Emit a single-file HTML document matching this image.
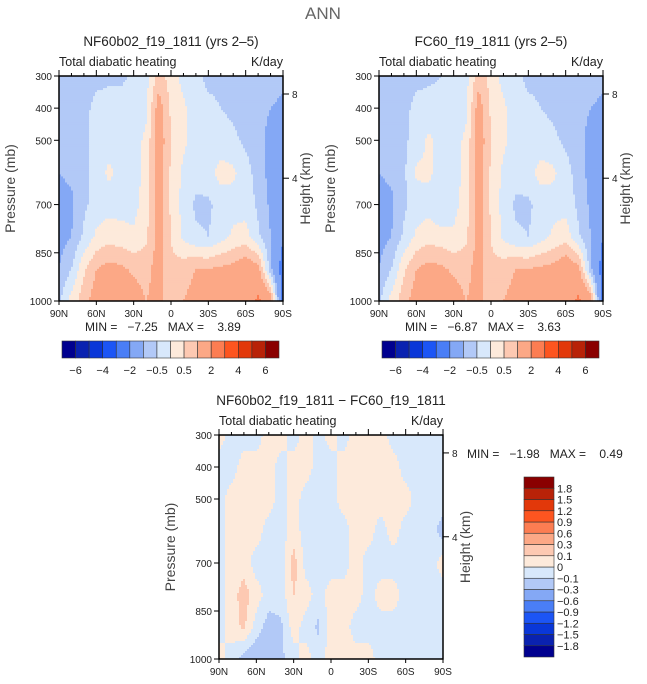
<!DOCTYPE html>
<html><head><meta charset="utf-8">
<style>
body{margin:0;background:#fff;}
svg{display:block;font-family:"Liberation Sans",sans-serif;}
text{fill:#222;}
</style></head>
<body>
<svg id="root" width="647" height="684" viewBox="0 0 647 684" xmlns="http://www.w3.org/2000/svg">
<text x="323" y="19" font-size="17" text-anchor="middle" fill="#666" style="fill:#666">ANN</text>
</svg>
<script>
const lats = ["90N","80N","70N","60N","50N","40N","30N","20N","10N","0","10S","20S","30S","40S","50S","60S","70S","80S","90S"];
const pLevels = [300,400,500,600,700,800,900,1000];
const xTickLabels = ["90N","60N","30N","0","30S","60S","90S"];
const yTickLabels = [300,400,500,700,850,1000];
const hTickLabels = [8,4];
const hTickPressures = [356,618];
const levelsA = [-6,-5,-4,-3,-2,-1,-0.5,0,0.5,1,2,3,4,5,6];
const levelsA_labels = [-6,-4,-2,-0.5,0.5,2,4,6];
const levelsD = [-1.8,-1.5,-1.2,-0.9,-0.6,-0.3,-0.1,0,0.1,0.3,0.6,0.9,1.2,1.5,1.8];
const colors = ["#00008f","#0a22b0","#0a37d8","#1c55f5","#4a7ef6","#84a8f5","#b2c9f7","#d8e8fb","#fdeadb","#fdc9b2","#fca886","#fc7d52","#fd5520","#e2380a","#b82208","#8a0000"];

const field1 = [
[-0.8,-0.8,-0.7,-0.6,-0.6,-0.6,-0.4,-0.2,0.7,0.3,-0.2,-0.4,-0.6,-0.6,-0.7,-0.7,-0.8,-0.8,-0.9],
[-0.9,-0.8,-0.6,-0.4,-0.3,-0.3,-0.3,-0.1,1.3,0.4,0.1,-0.3,-0.4,-0.5,-0.6,-0.7,-0.8,-1.0,-1.1],
[-1.0,-0.8,-0.6,-0.3,-0.2,-0.2,-0.2,0.1,1.4,0.5,0.1,-0.2,-0.3,-0.3,-0.4,-0.6,-0.8,-1.2,-1.4],
[-1.0,-0.9,-0.6,-0.3,0.1,-0.2,-0.3,0.2,1.4,0.4,-0.1,-0.3,-0.2,0.2,0.1,-0.3,-0.7,-1.2,-1.8],
[-1.2,-1.1,-0.6,-0.3,-0.2,-0.2,-0.2,0.3,1.3,0.4,-0.2,-0.6,-0.6,-0.3,-0.2,-0.2,-0.6,-1.1,-1.9],
[-1.2,-1.0,-0.4,0.1,0.3,0.2,0.1,0.4,1.2,0.5,-0.1,-0.4,-0.5,-0.2,0.1,0.2,-0.4,-1.0,-1.9],
[-1.0,-0.5,0.4,1.0,1.2,1.1,0.9,0.8,1.3,0.6,0.8,1.0,1.0,1.1,1.2,1.5,1.2,-0.8,-2.5],
[-0.6,0.2,0.8,1.3,1.5,1.5,1.3,1.0,1.2,0.6,1.0,1.2,1.2,1.3,1.2,1.2,2.2,1.5,-2.5]];
const field2 = [
[-0.8,-0.8,-0.7,-0.6,-0.6,-0.5,-0.4,-0.2,0.8,0.3,-0.2,-0.4,-0.6,-0.6,-0.7,-0.7,-0.8,-0.8,-0.9],
[-0.9,-0.8,-0.6,-0.4,-0.3,-0.3,-0.3,-0.1,1.3,0.4,0.1,-0.3,-0.4,-0.5,-0.6,-0.7,-0.8,-1.0,-1.1],
[-1.0,-0.8,-0.6,-0.3,0.1,-0.2,-0.2,0.1,1.4,0.5,0.1,-0.2,-0.3,-0.3,-0.4,-0.6,-0.8,-1.2,-1.5],
[-1.0,-0.9,-0.6,0.1,0.1,-0.2,-0.3,0.2,1.4,0.4,-0.1,-0.3,-0.2,0.2,0.1,-0.3,-0.7,-1.2,-1.9],
[-1.2,-1.1,-0.6,-0.3,-0.2,-0.5,-0.2,0.3,1.3,0.4,-0.2,-0.6,-0.6,-0.3,-0.2,-0.2,-0.6,-1.1,-2.0],
[-1.2,-1.0,-0.4,0.1,0.3,0.2,0.1,0.4,1.2,0.5,-0.1,-0.4,-0.5,-0.2,0.1,0.3,-0.4,-1.0,-2.0],
[-1.0,-0.5,0.4,1.0,1.2,1.1,0.9,0.8,1.3,0.6,0.8,1.0,1.0,1.1,1.2,1.5,1.2,-0.8,-2.5],
[-0.6,0.2,0.8,1.3,1.5,1.5,1.3,1.0,1.2,0.6,1.0,1.2,1.2,1.3,1.2,1.2,2.2,1.5,-2.5]];
const field3 = [
[0.05,-0.05,-0.05,-0.05,0.05,0.05,-0.05,0.05,-0.05,0.05,-0.05,0.05,0.05,0.05,-0.05,-0.05,-0.05,-0.05,-0.05],
[-0.05,-0.05,0.05,0.05,0.05,-0.05,0.05,0.05,-0.05,-0.05,0.05,0.05,0.05,0.05,0.05,-0.05,-0.05,-0.05,-0.05],
[-0.05,0.05,0.05,0.05,0.05,-0.05,0.05,-0.05,-0.05,-0.05,0.05,0.05,0.05,0.05,0.05,0.05,-0.05,-0.05,-0.05],
[-0.05,0.05,0.05,0.05,-0.05,-0.05,0.05,-0.05,-0.05,-0.05,-0.05,0.05,0.05,-0.05,0.05,-0.05,-0.05,-0.05,-0.15],
[-0.05,0.05,0.05,-0.05,-0.05,-0.05,0.15,-0.05,-0.05,-0.05,-0.05,0.05,-0.05,-0.05,-0.05,-0.05,-0.05,-0.05,0.05],
[-0.05,0.05,0.15,0.05,-0.05,-0.05,0.1,0.05,-0.05,0.05,0.05,0.05,-0.05,0.05,0.05,-0.05,-0.05,-0.05,-0.05],
[-0.05,0.05,0.12,-0.05,-0.15,-0.12,0.05,-0.05,-0.12,0.05,0.05,-0.05,-0.05,-0.05,-0.05,-0.05,-0.05,-0.05,-0.05],
[0.05,-0.05,-0.15,-0.2,-0.15,-0.12,-0.05,0.05,-0.05,0.05,0.05,0.05,0.05,-0.05,-0.05,-0.05,-0.05,-0.05,-0.05]];

const NS="http://www.w3.org/2000/svg";
const root=document.getElementById('root');
function el(tag,attrs,parent){const e=document.createElementNS(NS,tag);for(const k in attrs)e.setAttribute(k,attrs[k]);(parent||root).appendChild(e);return e;}
function txt(s,attrs,parent){const e=el('text',attrs,parent);e.textContent=s;return e;}
function colorIdx(v,lv){let i=0;while(i<lv.length&&v>=lv[i])i++;return i;}
function sample(f,fx,p){
  const cx=fx*(lats.length-1);let i=Math.min(Math.floor(cx),lats.length-2);const tx=cx-i;
  let j=0;while(j<pLevels.length-2&&p>pLevels[j+1])j++;
  const ty=(p-pLevels[j])/(pLevels[j+1]-pLevels[j]);
  const a=f[j][i]*(1-tx)+f[j][i+1]*tx, b=f[j+1][i]*(1-tx)+f[j+1][i+1]*tx;
  return a*(1-ty)+b*ty;
}
function panel(x0,y0,w,h,f,lv,title,mm,name,mmPos){
  const g=el('g',{},root);
  
  
  const yP=p=>y0+(p-300)/700*h;
  const N=112,M=112,cw=w/N,ch=h/M;
  for(let r=0;r<M;r++){
    const p=300+(r+0.5)/M*700;
    let start=0,cur=colorIdx(sample(f,0.5/N,p),lv);
    for(let c=1;c<=N;c++){
      const ci=c<N?colorIdx(sample(f,(c+0.5)/N,p),lv):-1;
      if(ci!==cur){
        const rc=el('rect',{x:(x0+start*cw).toFixed(2),y:(y0+r*ch).toFixed(2),width:((c-start)*cw+0.4).toFixed(2),height:(ch+0.4).toFixed(2),fill:colors[cur]},g);
        
        
        start=c;cur=ci;
      }
    }
  }
  const fr=el('rect',{x:x0,y:y0,width:w,height:h,fill:'none',stroke:'#000','stroke-width':1.5},g);
  
  
  for(let k=0;k<=18;k++){const x=x0+k*w/18;el('line',{x1:x,x2:x,y1:y0,y2:y0-(k%3==0?6:3),stroke:'#000'},g);}
  xTickLabels.forEach((s,k)=>{const x=x0+k*w/6;el('line',{x1:x,x2:x,y1:y0+h,y2:y0+h+4,stroke:'#000'},g);
    const t=txt(s,{x:x,y:y0+h+16,'font-size':10,'text-anchor':'middle'},g);});
  yTickLabels.forEach(p=>{const y=yP(p);el('line',{x1:x0,x2:x0-5,y1:y,y2:y,stroke:'#000'},g);
    const t=txt(String(p),{x:x0-7,y:y+4,'font-size':10,'text-anchor':'end'},g);});
  hTickLabels.forEach((s,k)=>{const y=yP(hTickPressures[k]);el('line',{x1:x0+w,x2:x0+w+6,y1:y,y2:y,stroke:'#000'},g);
    const t=txt(String(s),{x:x0+w+9,y:y+4,'font-size':10},g);});
  let t=txt(title,{x:x0+w/2,y:y0-30,'font-size':13.5,'text-anchor':'middle'},g);
  t=txt('Total diabatic heating',{x:x0,y:y0-10,'font-size':12.5},g);
  t=txt('K/day',{x:x0+w,y:y0-10,'font-size':12.5,'text-anchor':'end'},g);
  t=txt('Pressure (mb)',{x:0,y:0,'font-size':14,'text-anchor':'middle',transform:`translate(${x0-44},${y0+h/2}) rotate(-90)`,style:'fill:#444'},g);
  t=txt('Height (km)',{x:0,y:0,'font-size':14,'text-anchor':'middle',transform:`translate(${x0+w+27},${y0+h/2}) rotate(-90)`,style:'fill:#444'},g);
  t=txt(mm,{x:mmPos[0],y:mmPos[1],'font-size':12,style:'white-space:pre'},g);
}
function hbar(x0,y0,w,h,name){
  const g=el('g',{},root);
  const cw=w/colors.length;
  colors.forEach((c,i)=>{const r=el('rect',{x:x0+i*cw,y:y0,width:cw,height:h,fill:c,stroke:'#333','stroke-width':0.6},g);});
  levelsA_labels.forEach(v=>{const k=levelsA.indexOf(v)+1;const t=txt(v<0?'\u2212'+(-v):String(v),{x:x0+k*cw,y:y0+h+16,'font-size':11,'text-anchor':'middle'},g);});
}
panel(59,76,224,225,field1,levelsA,'NF60b02_f19_1811 (yrs 2\u20135)','MIN =   \u22127.25   MAX =    3.89','panel-nf60b02',[85,331]);
panel(379,76,224,225,field2,levelsA,'FC60_f19_1811 (yrs 2\u20135)','MIN =   \u22126.87   MAX =    3.63','panel-fc60',[405,331]);
panel(219,435,224,224,field3,levelsD,'NF60b02_f19_1811 \u2212 FC60_f19_1811','MIN =   \u22121.98   MAX =    0.49','panel-difference',[467,458]);
hbar(62,341,217,17,'colorbar-top-left');
hbar(382,341,217,17,'colorbar-top-right');
(function(){
  const g=el('g',{},root);
  const x0=524,y0=477,w=30,h=180,ch=h/colors.length;
  colors.forEach((c,i)=>{const r=el('rect',{x:x0,y:y0+h-(i+1)*ch,width:w,height:ch,fill:c,stroke:'#333','stroke-width':0.6},g);});
  levelsD.forEach((v,k)=>{const y=y0+h-(k+1)*ch;const t=txt(v<0?'\u2212'+(-v):String(v),{x:x0+w+3,y:y+4,'font-size':11},g);});
})();
</script>
</body></html>
